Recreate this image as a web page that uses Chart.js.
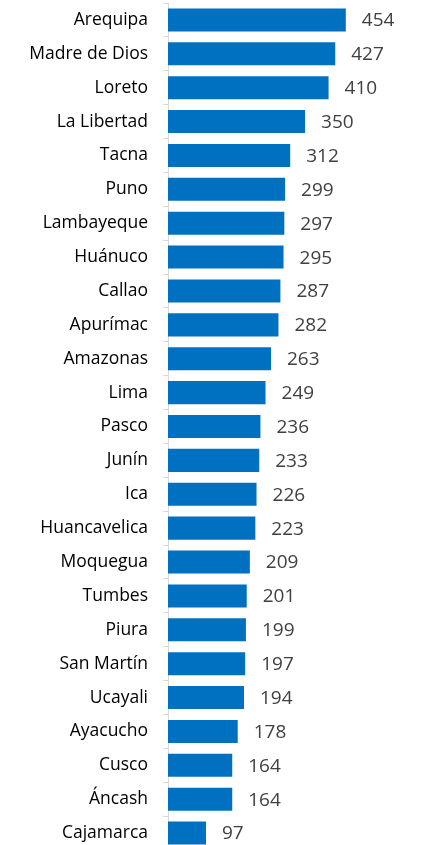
<!DOCTYPE html>
<html>
<head>
<meta charset="utf-8">
<script src="https://cdn.jsdelivr.net/npm/chart.js@4"></script>
<style>
html,body{margin:0;padding:0;background:#fff;overflow:hidden;}
#wrap{width:426px;height:850px;position:relative;}
</style>
</head>
<body>
<div id="wrap"><canvas id="c" width="426" height="850"></canvas></div>
<script>
const categories = ["Arequipa","Madre de Dios","Loreto","La Libertad","Tacna","Puno","Lambayeque","Huánuco","Callao","Apurímac","Amazonas","Lima","Pasco","Junín","Ica","Huancavelica","Moquegua","Tumbes","Piura","San Martín","Ucayali","Ayacucho","Cusco","Áncash","Cajamarca"];
const values = [454,427,410,350,312,299,297,295,287,282,263,249,236,233,226,223,209,201,199,197,194,178,164,164,97];

const FONT = "'Open Sans', Lato, sans-serif";

const valueLabels = {
  id: 'valueLabels',
  afterDatasetsDraw(chart) {
    const ctx = chart.ctx;
    const meta = chart.getDatasetMeta(0);
    ctx.save();
    ctx.font = "19px " + FONT;
    ctx.fillStyle = "#404040";
    ctx.textAlign = "left";
    ctx.textBaseline = "middle";
    meta.data.forEach((bar, i) => {
      ctx.fillText(String(values[i]), bar.x + 16, bar.y + 1);
    });
    ctx.restore();
  }
};

new Chart(document.getElementById('c'), {
  type: 'bar',
  data: {
    labels: categories,
    datasets: [{
      data: values,
      backgroundColor: '#0070C0',
      borderWidth: 0,
      categoryPercentage: 1,
      barPercentage: 0.68
    }]
  },
  options: {
    indexAxis: 'y',
    responsive: false,
    animation: false,
    devicePixelRatio: 1,
    layout: { padding: { top: 3, right: 23, bottom: 0, left: 0 } },
    plugins: { legend: { display: false }, tooltip: { enabled: false } },
    scales: {
      x: { display: false, min: 0, max: 600 },
      y: {
        afterFit(scale) { scale.width = 168; scale.paddingTop = 0; scale.paddingBottom = 0; },
        grid: { offset: true, drawOnChartArea: false, drawTicks: true, tickLength: 5, color: '#d9d9d9' },
        border: { display: true, color: '#d9d9d9', width: 1 },
        ticks: { color: '#000', padding: 15, font: { family: FONT, size: 17.5 }, autoSkip: false }
      }
    }
  },
  plugins: [valueLabels]
});
</script>
</body>
</html>
